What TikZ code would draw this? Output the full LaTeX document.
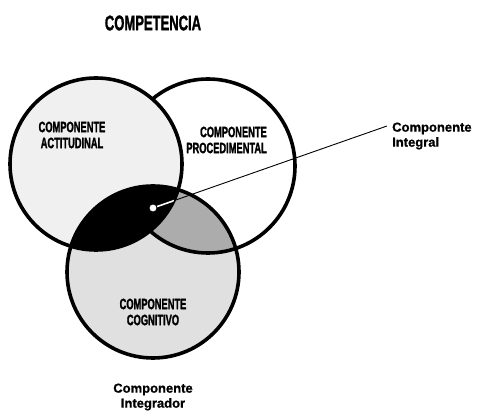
\documentclass[tikz,border=0pt]{standalone}
\usepackage{fontspec}
\setmainfont{Liberation Sans}[BoldFont={Liberation Sans Bold}]
\newfontfamily\heavyfont{Liberation Sans Bold}[FakeBold=2]
\newfontfamily\sidefont{Liberation Sans Bold}[FakeBold=0.8]
\usepackage{graphicx}
\newcommand\cnd[1]{\scalebox{0.62}[1]{#1}}
\begin{document}
\begin{tikzpicture}[x=1pt,y=-1pt,
  venn/.style={line width=3.6pt},
  caplab/.style={font=\fontsize{15}{16}\selectfont\heavyfont, inner sep=0pt, align=center},
  sidelab/.style={font=\fontsize{13}{15}\selectfont\sidefont, inner sep=0pt},
  pointer/.style={line width=0.9pt},
]
\useasboundingbox (0,0) rectangle (477,411);
\coordinate (cA) at (96,164);
\coordinate (cP) at (208,166);
\coordinate (cC) at (153,272);
% procedimental
\draw[venn, fill=white] (cP) circle[radius=87pt];
% actitudinal
\draw[venn, fill=gray!12] (cA) circle[radius=86pt];
% cognitivo
\fill[gray!24] (cC) circle[radius=86pt];
\begin{scope}
  \clip (cC) circle[radius=86pt];
  \fill[gray!65] (cP) circle[radius=87pt];
  \fill[black] (cA) circle[radius=86pt];
  \draw[venn] (cP) circle[radius=87pt];
  \draw[venn] (cA) circle[radius=86pt];
\end{scope}
\draw[venn] (cC) circle[radius=86pt];
% pointer
\node[circle, draw, fill=white, line width=0.8pt, minimum size=8pt, inner sep=0pt] (ptr) at (153,208) {};
\coordinate (lend) at (387,126);
\draw[pointer] (ptr) -- (lend);
\begin{scope}
  \clip (cA) circle[radius=86pt];
  \clip (cC) circle[radius=86pt];
  \draw[white, line width=1.6pt] (ptr) -- (lend);
\end{scope}
% labels
\node[caplab, font=\fontsize{21}{22}\selectfont\heavyfont] (title) at (153,23) {\cnd{COMPETENCIA}};
\node[caplab] (lA) at (72,135) {\cnd{COMPONENTE}\\\cnd{ACTITUDINAL}};
\node[caplab, align=right, anchor=east] (lP) at (267,140) {\cnd{COMPONENTE}\\\cnd{PROCEDIMENTAL}};
\node[caplab] (lC) at (153,312) {\cnd{COMPONENTE}\\\cnd{COGNITIVO}};
\node[sidelab, align=left, anchor=west] (integral) at (392,136) {Componente\\Integral};
\node[sidelab, align=center] (integrador) at (153,397) {Componente\\Integrador};
\end{tikzpicture}
\end{document}
